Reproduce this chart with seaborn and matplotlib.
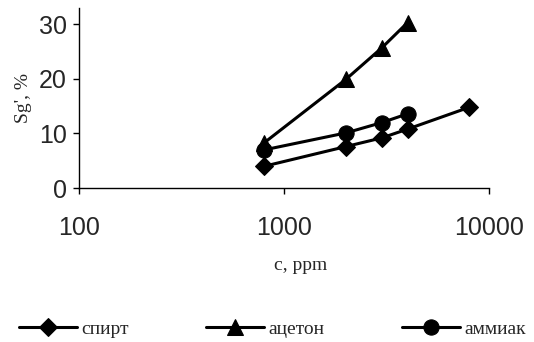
import matplotlib
matplotlib.use("Agg")
import matplotlib.pyplot as plt
import seaborn as sns
import pandas as pd

conc_spirt = [800, 2000, 3000, 4000, 8000]
val_spirt = [4.0, 7.6, 9.2, 10.8, 14.8]
conc_aceton = [800, 2000, 3000, 4000]
val_aceton = [8.3, 19.9, 25.7, 30.3]
conc_ammiak = [800, 2000, 3000, 4000]
val_ammiak = [7.0, 10.1, 12.0, 13.6]
series_names = ["спирт", "ацетон", "аммиак"]
yticks = [0, 10, 20, 30]
xticks = [100, 1000, 10000]

df = pd.concat([
    pd.DataFrame({"c": conc_spirt, "s": val_spirt, "series": series_names[0]}),
    pd.DataFrame({"c": conc_aceton, "s": val_aceton, "series": series_names[1]}),
    pd.DataFrame({"c": conc_ammiak, "s": val_ammiak, "series": series_names[2]}),
], ignore_index=True)

sns.set_style("white")
plt.rcParams["font.family"] = ["Liberation Sans", "DejaVu Sans"]

fig = plt.figure(figsize=(5.34, 3.42), dpi=100)
ax = fig.add_axes([0.148, 0.450, 0.768, 0.527])

markers = {"спирт": "D", "ацетон": "^", "аммиак": "o"}
sizes = {"спирт": 9, "ацетон": 11, "аммиак": 11}
for name in series_names:
    sub = df[df["series"] == name]
    sns.lineplot(data=sub, x="c", y="s", ax=ax, color="black", linewidth=2.2,
                 marker=markers[name], markersize=sizes[name],
                 markeredgecolor="black", markerfacecolor="black",
                 label=name, legend=False, sort=False)

ax.set_xscale("log")
ax.set_xlim(100, 10000)
ax.set_ylim(0, 33)
ax.set_xticks(xticks)
ax.set_xticklabels([str(t) for t in xticks])
ax.minorticks_off()
ax.set_yticks(yticks)
ax.tick_params(axis="both", labelsize=18, length=4, width=1, color="black",
               direction="out", bottom=True, left=True)
ax.tick_params(axis="x", pad=16)
ax.tick_params(axis="y", pad=5)
for sp in ["top", "right"]:
    ax.spines[sp].set_visible(False)
for sp in ["left", "bottom"]:
    ax.spines[sp].set_color("black")
    ax.spines[sp].set_linewidth(1)

ax.set_xlabel("c, ppm", fontfamily="Liberation Serif", fontsize=14)
ax.xaxis.set_label_coords(0.54, -0.38)
ax.set_ylabel("Sg', %", fontfamily="Liberation Serif", fontsize=14)
ax.yaxis.set_label_coords(-0.115, 0.5)

handles, labels = ax.get_legend_handles_labels()
fig.legend(handles, labels, loc="lower center", bbox_to_anchor=(0.51, -0.04), ncol=3,
           frameon=False, prop={"family": "Liberation Serif", "size": 14},
           handlelength=3.0, columnspacing=4.0, handletextpad=0.2)

fig.savefig("out.png", dpi=100)
